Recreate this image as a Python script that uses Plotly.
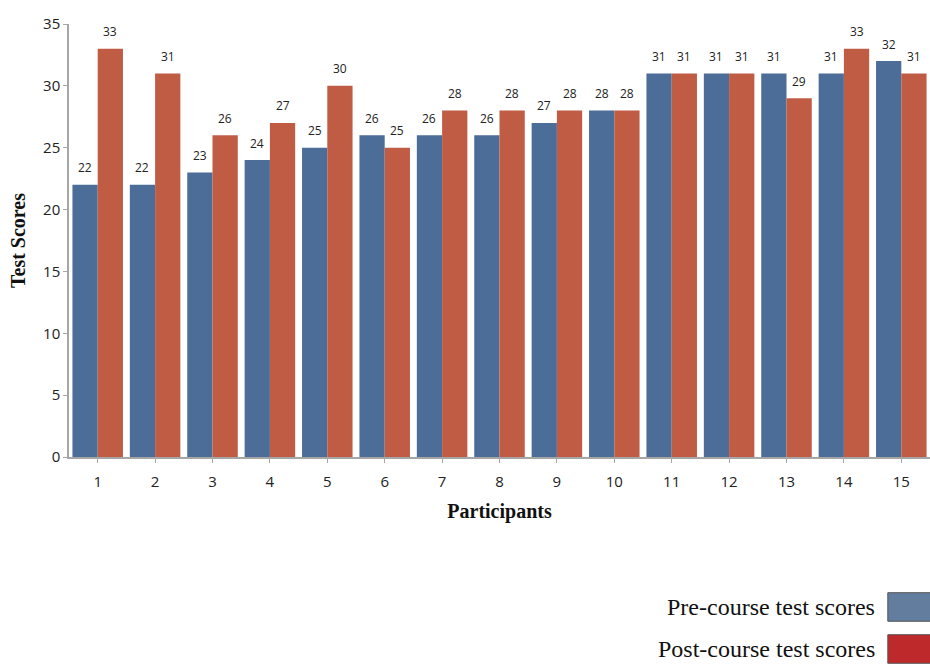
import plotly.graph_objects as go

participants = [str(i) for i in range(1, 16)]
pre_scores = [22, 22, 23, 24, 25, 26, 26, 26, 27, 28, 31, 31, 31, 31, 32]
post_scores = [33, 31, 26, 27, 30, 25, 28, 28, 28, 28, 31, 31, 29, 33, 31]
y_ticks = [0, 5, 10, 15, 20, 25, 30, 35]

BLUE = "#4b6d97"
RED = "#c05b44"
LEGEND_BLUE = "#627d9e"
LEGEND_RED = "#be2a2b"

fig = go.Figure()
fig.add_trace(go.Bar(x=participants, y=pre_scores, name="Pre-course test scores",
                     marker=dict(color=BLUE, line=dict(width=0)), showlegend=False))
fig.add_trace(go.Bar(x=participants, y=post_scores, name="Post-course test scores",
                     marker=dict(color=RED, line=dict(width=0)), showlegend=False))

# value labels above each bar
for i, p in enumerate(participants):
    for val, off in ((pre_scores[i], -0.22), (post_scores[i], 0.22)):
        fig.add_annotation(x=i + off, y=val, text=str(val), showarrow=False,
                           yshift=17, font=dict(family="Open Sans, sans-serif", size=12, color="#222"))

# legend drawn as text + swatch to its right, below the plot
legend_items = [("Pre-course test scores", LEGEND_BLUE, -0.3464),
                ("Post-course test scores", LEGEND_RED, -0.4434)]
for label, color, yp in legend_items:
    fig.add_annotation(xref="paper", yref="paper", x=0.938, y=yp, text=label,
                       showarrow=False, xanchor="right", yanchor="middle",
                       font=dict(family="Liberation Serif, serif", size=24, color="#111"))
    fig.add_shape(type="rect", xref="paper", yref="paper",
                  x0=0.951, x1=1.01, y0=yp - 0.033, y1=yp + 0.033,
                  fillcolor=color, line=dict(color="#555", width=1))

fig.update_layout(
    width=930, height=665,
    margin=dict(l=69, r=0, t=24, b=208, autoexpand=False),
    paper_bgcolor="white", plot_bgcolor="white",
    barmode="group", bargap=0.12, bargroupgap=0,
    xaxis=dict(
        range=[-0.5, 14.5],
        showline=True, linecolor="#a6a6a6", linewidth=1.5,
        ticks="outside", ticklen=4, tickcolor="#a6a6a6", ticklabelstandoff=6,
        tickfont=dict(family="Open Sans, sans-serif", size=15, color="#222"),
        title=dict(text="<b>Participants</b>", standoff=14,
                   font=dict(family="Liberation Serif, serif", size=20, color="#111")),
    ),
    yaxis=dict(
        range=[0, 35], tickvals=y_ticks,
        showline=True, linecolor="#a6a6a6", linewidth=1.5, showgrid=False, zeroline=False,
        ticks="outside", ticklen=4, tickcolor="#a6a6a6",
        tickfont=dict(family="Open Sans, sans-serif", size=15, color="#222"),
        title=dict(text="<b>Test Scores</b>", standoff=12,
                   font=dict(family="Liberation Serif, serif", size=20, color="#111")),
    ),
)

fig.write_html("out.html")
